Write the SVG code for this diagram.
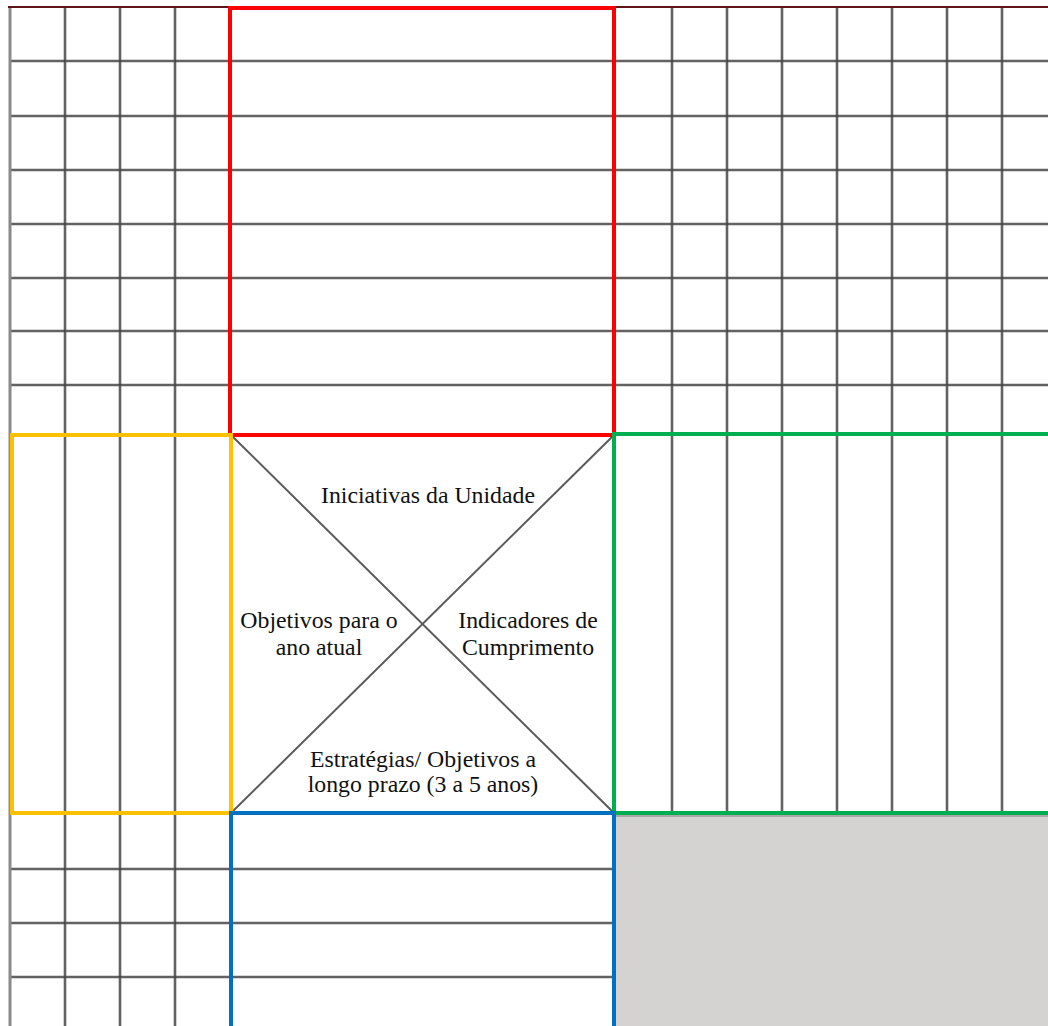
<svg xmlns="http://www.w3.org/2000/svg" width="1048" height="1026" viewBox="0 0 1048 1026">
<style>
.g{stroke:#474747;stroke-width:2.6;stroke-opacity:0.85;fill:none}
.edge{stroke:#8a8a8a;stroke-width:3;fill:none}
.box{fill:none;stroke-width:4}
.diag{stroke:#5a5a5a;stroke-width:2;fill:none}
.t{font-family:"Liberation Serif","Times New Roman",serif;font-size:23.8px;fill:#111;text-anchor:middle}
</style>
<rect width="1048" height="1026" fill="#ffffff"/>
<g id="grid">
  <path class="g" d="M10 61H1048M10 116H1048M10 170H1048M10 224H1048M10 278H1048M10 331H1048M10 385H1048"/>
  <path class="g" d="M10 869H614M10 923H614M10 977H614"/>
  <path class="g" d="M65 7V1026M120 7V1026M175 7V1026"/>
  <path class="g" d="M672 7V813M727 7V813M782 7V813M837 7V813M892 7V813M947 7V813M1002 7V813"/>
  <path class="edge" d="M10 7V1026"/>
  <path d="M8 7H1048" stroke="#5e1414" stroke-width="2.2" fill="none"/>
</g>
<rect id="blank-area" x="616" y="815" width="432" height="211" fill="#d4d3d2"/>
<path d="M616 816H1048" stroke="#9a9a9a" stroke-width="1.5" fill="none"/>
<g id="connectors">
  <line class="diag" x1="231" y1="435" x2="614" y2="813"/>
  <line class="diag" x1="614" y1="435" x2="231" y2="813"/>
</g>
<g id="node-iniciativas">
  <rect class="box" x="230" y="8" width="384" height="427" stroke="#ff0000"/>
  <text class="t" x="428" y="503">Iniciativas da Unidade</text>
</g>
<g id="node-objetivos">
  <rect class="box" x="12" y="435" width="219" height="378" stroke="#ffc000"/>
  <text class="t" x="319" y="628">Objetivos para o</text>
  <text class="t" x="319" y="655">ano atual</text>
</g>
<g id="node-indicadores">
  <rect class="box" x="614" y="434" width="440" height="379" stroke="#00b050"/>
  <text class="t" x="528" y="628">Indicadores de</text>
  <text class="t" x="528" y="655">Cumprimento</text>
</g>
<g id="node-estrategias">
  <rect class="box" x="231" y="813" width="383" height="220" stroke="#0070c0"/>
  <text class="t" x="423" y="767">Estratégias/ Objetivos a</text>
  <text class="t" x="423" y="792">longo prazo (3 a 5 anos)</text>
</g>
</svg>
